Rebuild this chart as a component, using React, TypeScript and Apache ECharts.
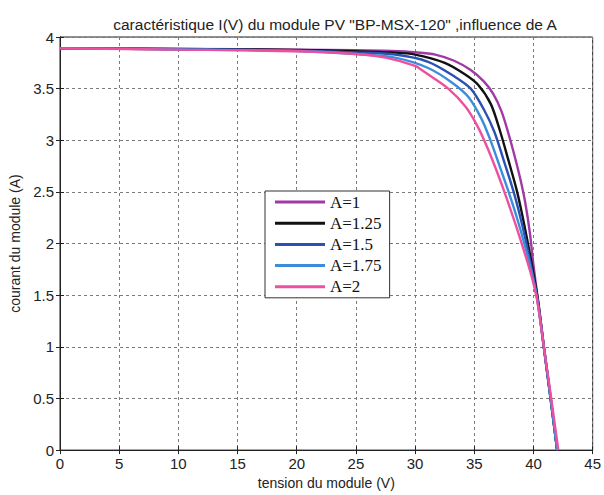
import React, { useEffect, useRef } from "react";
import * as echarts from "echarts";

const titleText = 'caractéristique I(V) du module PV "BP-MSX-120" ,influence de A';
const xName = "tension du module (V)";
const yName = "courant du module (A)";
const legendNames = ["A=1", "A=1.25", "A=1.5", "A=1.75", "A=2"];
const seriesColors = ["#a23aa6", "#111111", "#2b52b3", "#3a8ddb", "#ee4f9f"];

const curveA1: number[][] = [
  [0, 3.89], [10, 3.885], [20, 3.878], [25, 3.872], [28, 3.864], [30, 3.852], [31.7, 3.83],
  [33.3, 3.77], [34.7, 3.68], [35.8, 3.57], [36.6, 3.45], [37.3, 3.28], [37.9, 3.06],
  [38.4, 2.85], [38.9, 2.62], [39.3, 2.4], [39.7, 2.1], [40.0, 1.79], [40.4, 1.43],
  [40.9, 0.97], [41.45, 0.49], [42.0, 0],
];
const curveA125: number[][] = [
  [0, 3.89], [10, 3.884], [20, 3.875], [25, 3.862], [28, 3.85], [30, 3.83], [32.5, 3.75],
  [34.2, 3.64], [35.3, 3.54], [36.4, 3.35], [37.2, 3.08], [37.9, 2.8], [38.6, 2.51],
  [39.1, 2.25], [39.6, 1.96], [40.0, 1.71], [40.4, 1.44], [40.9, 0.98], [41.45, 0.5], [42.0, 0],
];
const curveA15: number[][] = [
  [0, 3.89], [10, 3.882], [20, 3.87], [25, 3.85], [28.3, 3.83], [31.1, 3.76], [33.3, 3.62],
  [34.7, 3.5], [35.8, 3.3], [36.7, 3.08], [37.5, 2.8], [38.3, 2.51], [38.9, 2.25],
  [39.4, 2.0], [39.9, 1.72], [40.35, 1.45], [40.9, 0.98], [41.45, 0.5], [42.0, 0],
];
const curveA175: number[][] = [
  [0, 3.89], [10, 3.88], [20, 3.865], [25, 3.835], [28.3, 3.8], [31.1, 3.7], [33.1, 3.56],
  [34.5, 3.42], [35.6, 3.21], [36.4, 2.99], [37.2, 2.73], [37.9, 2.5], [38.6, 2.25],
  [39.3, 1.97], [39.85, 1.72], [40.3, 1.47], [40.9, 0.98], [41.45, 0.5], [42.0, 0],
];
const curveA2: number[][] = [
  [0, 3.89], [10, 3.878], [20, 3.862], [25, 3.835], [27.5, 3.8], [30, 3.72], [30.8, 3.66],
  [32.8, 3.5], [34.3, 3.32], [35.3, 3.13], [36.1, 2.93], [36.9, 2.7], [37.7, 2.45],
  [38.5, 2.18], [39.2, 1.93], [39.8, 1.7], [40.3, 1.46], [40.9, 0.98], [41.5, 0.5], [42.1, 0],
];
const curves = [curveA1, curveA125, curveA15, curveA175, curveA2];

export default function App() {
  const ref = useRef<HTMLDivElement>(null);
  useEffect(() => {
    if (!ref.current) return;
    const chart = echarts.init(ref.current, null, { renderer: "svg" });
    const sans = "Liberation Sans, Arial, sans-serif";
    const gridLine = { show: true, lineStyle: { color: "#7a7a7a", type: [3, 3] as any, width: 1 } };
    chart.setOption({
      animation: false,
      backgroundColor: "#ffffff",
      title: {
        text: titleText,
        left: 330,
        textAlign: "center",
        top: 11,
        textStyle: { fontFamily: sans, fontSize: 15.5, fontWeight: "normal", color: "#222" },
      },
      grid: { left: 60, top: 37, right: 8, bottom: 42, show: true, borderColor: "#222", borderWidth: 1 },
      legend: {
        data: legendNames,
        orient: "vertical",
        left: 265,
        top: 191,
        padding: [2, 8, 2, 10],
        itemWidth: 50,
        itemHeight: 3,
        itemGap: 3.2,
        icon: "rect",
        backgroundColor: "#ffffff",
        borderColor: "#333",
        borderWidth: 1,
        textStyle: { fontFamily: "Liberation Serif, Times New Roman, serif", fontSize: 17, color: "#111", lineHeight: 18 },
      },
      xAxis: [
        {
          type: "value", min: 0, max: 45, interval: 5,
          name: xName, nameLocation: "middle", nameGap: 24,
          nameTextStyle: { fontFamily: sans, fontSize: 14, color: "#222" },
          axisLine: { show: true, lineStyle: { color: "#222" } },
          axisTick: { show: true, inside: true, length: 4, lineStyle: { color: "#222" } },
          axisLabel: { fontFamily: sans, fontSize: 15, color: "#222", margin: 6 },
          splitLine: gridLine,
        },
        {
          type: "value", min: 0, max: 45, interval: 5, position: "top",
          axisLine: { show: true, lineStyle: { color: "#222" } },
          axisTick: { show: true, inside: true, length: 4, lineStyle: { color: "#222" } },
          axisLabel: { show: false }, splitLine: { show: false },
        },
      ],
      yAxis: [
        {
          type: "value", min: 0, max: 4, interval: 0.5,
          name: yName, nameLocation: "middle", nameGap: 38, nameRotate: 90,
          nameTextStyle: { fontFamily: sans, fontSize: 14, color: "#222" },
          axisLine: { show: true, lineStyle: { color: "#222" } },
          axisTick: { show: true, inside: true, length: 4, lineStyle: { color: "#222" } },
          axisLabel: { fontFamily: sans, fontSize: 15, color: "#222", margin: 6 },
          splitLine: gridLine,
        },
        {
          type: "value", min: 0, max: 4, interval: 0.5, position: "right",
          axisLine: { show: true, lineStyle: { color: "#222" } },
          axisTick: { show: true, inside: true, length: 4, lineStyle: { color: "#222" } },
          axisLabel: { show: false }, splitLine: { show: false },
        },
      ],
      series: curves.map((c, i) => ({
        name: legendNames[i],
        type: "line",
        data: c,
        showSymbol: false,
        symbol: "none",
        smooth: 0.3,
        color: seriesColors[i],
        lineStyle: { color: seriesColors[i], width: 2.4 },
      })),
    });
    return () => chart.dispose();
  }, []);
  return <div ref={ref} style={{ position: "absolute", left: 0, top: 0, width: 604, height: 495 }} />;
}
